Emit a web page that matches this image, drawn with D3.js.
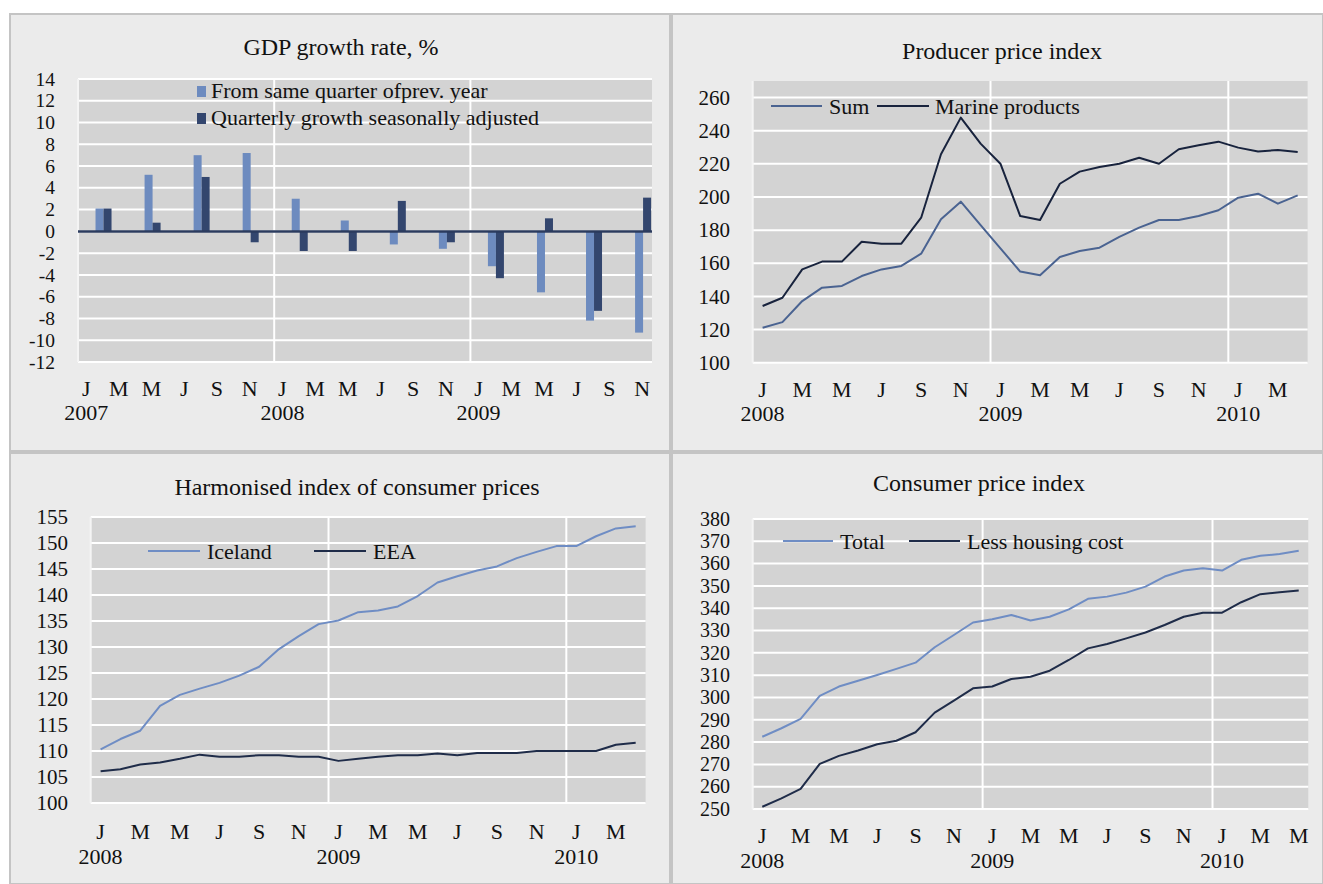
<!DOCTYPE html>
<html><head><meta charset="utf-8">
<script src="https://cdn.jsdelivr.net/npm/d3@7"></script>
<style>body{margin:0;background:#fff}svg{display:block}text{font-family:"Liberation Serif","Times New Roman",serif;fill:#111}</style>
</head><body>
<script>
// ---------- DATA ----------
const monthLetters = ["J","F","M","A","M","J","J","A","S","O","N","D"];

const gdpQuarters = ["2007Q1","2007Q2","2007Q3","2007Q4","2008Q1","2008Q2","2008Q3","2008Q4","2009Q1","2009Q2","2009Q3","2009Q4"];
const gdpYoY = [2.1, 5.2, 7.0, 7.2, 3.0, 1.0, -1.2, -1.6, -3.2, -5.6, -8.2, -9.3];
const gdpQoQ = [2.1, 0.8, 5.0, -1.0, -1.8, -1.8, 2.8, -1.0, -4.3, 1.2, -7.3, 3.1];
const gdpTicks = [-12,-10,-8,-6,-4,-2,0,2,4,6,8,10,12,14];
const gdpYears = ["2007","2008","2009"];

const ppiSum = [121.1,124.5,137.2,145.3,146.3,152.3,156.3,158.4,165.8,186.5,197.2,183.0,169.0,155.0,152.8,163.8,167.4,169.4,175.9,181.5,186.1,186.1,188.5,192.0,199.6,202.0,196.0,201.0];
const ppiMarine = [134.2,139.2,156.3,161.0,161.0,173.0,171.8,171.8,187.5,225.8,247.9,232.2,220.1,188.5,186.1,208.0,215.3,218.1,220.1,223.7,220.1,228.8,231.2,233.4,229.8,227.4,228.4,227.2];
const ppiTicks = [100,120,140,160,180,200,220,240,260];

const hicpIceland = [110.3,112.3,113.9,118.7,120.8,122.0,123.1,124.5,126.2,129.6,132.1,134.4,135.1,136.7,137.0,137.8,139.8,142.4,143.6,144.7,145.5,147.1,148.3,149.4,149.4,151.3,152.8,153.2];
const hicpEEA = [106.1,106.5,107.4,107.8,108.5,109.3,108.9,108.9,109.2,109.2,108.9,108.9,108.1,108.5,108.9,109.2,109.2,109.5,109.2,109.6,109.6,109.6,110.0,110.0,110.0,110.0,111.2,111.6];
const hicpTicks = [100,105,110,115,120,125,130,135,140,145,150,155];

const cpiTotal = [282.4,286.2,290.4,300.7,304.9,307.5,310.1,312.8,315.6,322.5,328.0,333.6,335.1,337.0,334.5,336.2,339.5,344.2,345.2,347.0,349.7,354.2,356.9,357.9,356.9,361.7,363.5,364.3,365.8];
const cpiLessHousing = [251.0,254.8,259.0,270.2,273.8,276.2,279.0,280.6,284.4,293.2,298.6,304.1,304.9,308.3,309.3,312.0,316.8,322.0,324.0,326.5,329.1,332.5,336.2,338.0,338.0,342.7,346.3,347.2,347.9];
const cpiTicks = [250,260,270,280,290,300,310,320,330,340,350,360,370,380];

const lineYears = ["2008","2009","2010"];

// ---------- STYLE ----------
const C = {
  panel:"#ebebeb", border:"#c4c4c4", plot:"#d3d3d3", grid:"#ffffff",
  light:"#6d8bbf", dark:"#33466e", ppiSum:"#4a6391", ppiMarine:"#18233d",
  lineLight:"#6f8dc4", lineDark:"#1f2c49", zero:"#2b3b5e"
};
const FS = {month:22, year:22, title:24, legend:22};

const W = 1323, H = 884;
const svg = d3.select("body").append("svg").attr("width", W).attr("height", H);

// panels
[[10,14,660,437],[672,14,651,437],[10,453,660,431],[672,453,651,431]].forEach(p=>{
  svg.append("rect").attr("x",p[0]).attr("y",p[1]).attr("width",p[2]).attr("height",p[3])
    .attr("fill",C.panel).attr("stroke",C.border).attr("stroke-width",2);
});

let clipId = 0;
function frame(cfg){
  const g = svg.append("g");
  const {x0,x1,y0,y1} = cfg.plot;
  g.append("rect").attr("x",x0).attr("y",y0).attr("width",x1-x0).attr("height",y1-y0).attr("fill",C.plot);
  const y = d3.scaleLinear().domain(cfg.yDomain).range([y1, y0]);
  const x = d3.scaleLinear().domain([0, cfg.nMonths]).range([x0, cfg.xEnd ?? x1]);
  g.append("g").selectAll("line").data(cfg.ticks).join("line")
    .attr("x1",x0).attr("x2",x1).attr("y1",d=>y(d)).attr("y2",d=>y(d))
    .attr("stroke",C.grid).attr("stroke-width",2);
  g.append("g").selectAll("line").data([12,24]).join("line")
    .attr("x1",d=>x(d)).attr("x2",d=>x(d)).attr("y1",y0).attr("y2",y1)
    .attr("stroke",C.grid).attr("stroke-width",2);
  g.append("line").attr("x1",x0).attr("x2",x0).attr("y1",y0).attr("y2",y1).attr("stroke","#f4f4f4").attr("stroke-width",2);
  g.append("g").selectAll("text").data(cfg.ticks).join("text")
    .attr("x",cfg.labelX).attr("y",d=>y(d)).attr("dy","0.34em").attr("text-anchor","end")
    .attr("font-size",cfg.tickFS).text(d=>d);
  const mIdx = d3.range(0, cfg.nLabels, 2);
  g.append("g").selectAll("text").data(mIdx).join("text")
    .attr("x",d=>x(d+0.5)).attr("y",cfg.monthY).attr("dy","0.34em").attr("text-anchor","middle")
    .attr("font-size",FS.month).text(d=>monthLetters[d%12]);
  g.append("g").selectAll("text").data(cfg.years).join("text")
    .attr("x",(d,i)=>x(12*i+0.5)).attr("y",cfg.yearY).attr("dy","0.34em").attr("text-anchor","middle")
    .attr("font-size",FS.year).text(d=>d);
  svg.append("text").attr("x",cfg.titleX).attr("y",cfg.titleY).attr("dy","0.34em").attr("text-anchor","middle")
    .attr("font-size",FS.title).text(cfg.title);
  const cid = "clip"+(clipId++);
  svg.append("clipPath").attr("id",cid).append("rect").attr("x",x0).attr("y",y0-2).attr("width",x1-x0).attr("height",y1-y0+4);
  return {g, x, y, cid};
}

function lineLegend(items, yy){
  items.forEach(it=>{
    svg.append("line").attr("x1",it.lx0).attr("x2",it.lx1).attr("y1",yy).attr("y2",yy)
      .attr("stroke",it.color).attr("stroke-width",2);
    svg.append("text").attr("x",it.tx).attr("y",yy+1).attr("dy","0.34em").attr("font-size",FS.legend).text(it.label);
  });
}

// ---------- GDP ----------
{
  const f = frame({plot:{x0:78,x1:652,y0:79,y1:362}, xEnd:666.6, yDomain:[-12,14], ticks:gdpTicks, tickFS:19.5, nMonths:36, nLabels:36,
    labelX:55, monthY:389, yearY:413, years:gdpYears, title:"GDP growth rate, %", titleX:341, titleY:47});
  const xq = d3.scaleBand().domain(gdpQuarters).range([f.x(0), f.x(36)]);
  const bw = 8;
  const bars = svg.append("g").attr("clip-path",`url(#${f.cid})`);
  bars.selectAll(".a").data(gdpQuarters).join("rect")
    .attr("x",d=>xq(d)+xq.bandwidth()/2-bw+1).attr("width",bw)
    .attr("y",(d,i)=>f.y(Math.max(0,gdpYoY[i]))).attr("height",(d,i)=>Math.abs(f.y(gdpYoY[i])-f.y(0)))
    .attr("fill",C.light);
  bars.selectAll(".b").data(gdpQuarters).join("rect")
    .attr("x",d=>xq(d)+xq.bandwidth()/2+1).attr("width",bw)
    .attr("y",(d,i)=>f.y(Math.max(0,gdpQoQ[i]))).attr("height",(d,i)=>Math.abs(f.y(gdpQoQ[i])-f.y(0)))
    .attr("fill",C.dark);
  svg.append("line").attr("x1",78).attr("x2",652).attr("y1",f.y(0)).attr("y2",f.y(0)).attr("stroke",C.zero).attr("stroke-width",2.5);
  [["From same quarter ofprev. year",C.light,91],["Quarterly growth seasonally adjusted",C.dark,118]].forEach(l=>{
    svg.append("rect").attr("x",197).attr("y",l[2]-5).attr("width",9).attr("height",11).attr("fill",l[1]);
    svg.append("text").attr("x",211).attr("y",l[2]).attr("dy","0.34em").attr("font-size",FS.legend).text(l[0]);
  });
}

function drawLines(f, series){
  const line = d3.line().x((d,i)=>f.x(i+0.5)).y(d=>f.y(d));
  series.forEach(s=>{
    svg.append("path").attr("d",line(s.data)).attr("fill","none").attr("stroke",s.color)
      .attr("stroke-width",2).attr("stroke-linejoin","round").attr("clip-path",`url(#${f.cid})`);
  });
}

// ---------- PPI ----------
{
  const f = frame({plot:{x0:752.7,x1:1307.6,y0:81,y1:362.7}, yDomain:[100,270], ticks:ppiTicks, tickFS:21, nMonths:28, nLabels:28,
    labelX:730, monthY:390, yearY:414, years:lineYears, title:"Producer price index", titleX:1002, titleY:51});
  drawLines(f, [{data:ppiSum,color:C.ppiSum},{data:ppiMarine,color:C.ppiMarine}]);
  lineLegend([{lx0:771,lx1:822,tx:829,label:"Sum",color:C.ppiSum},{lx0:877,lx1:929,tx:935,label:"Marine products",color:C.ppiMarine}],106);
}

// ---------- HICP ----------
{
  const f = frame({plot:{x0:90.7,x1:645.6,y0:517,y1:803}, yDomain:[100,155], ticks:hicpTicks, tickFS:21, nMonths:28, nLabels:28,
    labelX:68, monthY:832, yearY:857, years:lineYears, title:"Harmonised index of consumer prices", titleX:357, titleY:487});
  drawLines(f, [{data:hicpIceland,color:C.lineLight},{data:hicpEEA,color:C.lineDark}]);
  lineLegend([{lx0:148,lx1:200,tx:207,label:"Iceland",color:C.lineLight},{lx0:314,lx1:366,tx:373,label:"EEA",color:C.lineDark}],551);
}

// ---------- CPI ----------
{
  const f = frame({plot:{x0:752.7,x1:1308.3,y0:519,y1:809}, yDomain:[250,380], ticks:cpiTicks, tickFS:20, nMonths:29, nLabels:29,
    labelX:730, monthY:836, yearY:861, years:lineYears, title:"Consumer price index", titleX:979, titleY:483});
  drawLines(f, [{data:cpiTotal,color:C.lineLight},{data:cpiLessHousing,color:C.lineDark}]);
  lineLegend([{lx0:783,lx1:833,tx:840,label:"Total",color:C.lineLight},{lx0:909,lx1:960,tx:967,label:"Less housing cost",color:C.lineDark}],541);
}
</script>
</body></html>
